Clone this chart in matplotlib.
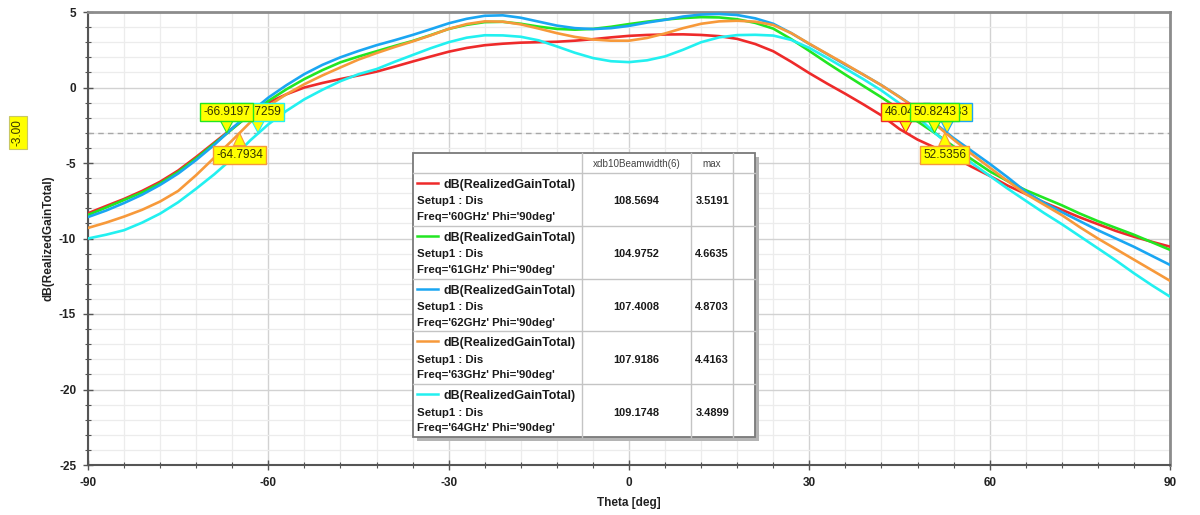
import numpy as np
import matplotlib
matplotlib.use("Agg")
import matplotlib.pyplot as plt
from matplotlib.patches import Rectangle
from matplotlib.lines import Line2D
from matplotlib.ticker import MultipleLocator

plt.rcParams['font.family'] = ['Liberation Sans', 'DejaVu Sans']
plt.rcParams['axes.unicode_minus'] = False

# ---------------- data ----------------
theta = np.arange(-90, 91, 3)

gain_60 = [-8.33, -7.85, -7.38, -6.85, -6.24, -5.5, -4.6, -3.65, -2.7, -1.8,
           -1.0, -0.45, 0.0, 0.3, 0.56, 0.8, 1.05, 1.38, 1.72, 2.05,
           2.37, 2.62, 2.8, 2.9, 2.97, 3.0, 3.03, 3.1, 3.2, 3.32,
           3.42, 3.48, 3.51, 3.52, 3.48, 3.4, 3.22, 2.88, 2.4, 1.7,
           0.95, 0.25, -0.42, -1.12, -1.85, -2.75, -3.45, -4.0, -4.6, -5.25,
           -5.85, -6.5, -7.05, -7.6, -8.1, -8.6, -9.05, -9.5, -9.88, -10.22, -10.54]

gain_61 = [-8.44, -7.95, -7.45, -6.95, -6.35, -5.6, -4.7, -3.72, -2.75, -1.75,
           -0.89, -0.12, 0.56, 1.15, 1.67, 2.05, 2.4, 2.75, 3.08, 3.47,
           3.88, 4.15, 4.33, 4.35, 4.22, 4.03, 3.88, 3.83, 3.88, 4.02,
           4.2, 4.36, 4.5, 4.6, 4.66, 4.64, 4.52, 4.28, 3.9, 3.2,
           2.42, 1.62, 0.85, 0.1, -0.65, -1.45, -2.25, -3.05, -3.9, -4.75,
           -5.55, -6.2, -6.8, -7.3, -7.8, -8.35, -8.85, -9.3, -9.75, -10.25, -10.75]

gain_62 = [-8.58, -8.15, -7.65, -7.1, -6.45, -5.7, -4.8, -3.8, -2.7, -1.65,
           -0.67, 0.15, 0.89, 1.5, 2.0, 2.42, 2.8, 3.13, 3.48, 3.86,
           4.25, 4.55, 4.75, 4.78, 4.62, 4.36, 4.1, 3.93, 3.87, 3.93,
           4.08, 4.3, 4.48, 4.7, 4.83, 4.87, 4.8, 4.58, 4.22, 3.6,
           2.88, 2.2, 1.5, 0.85, 0.15, -0.62, -1.42, -2.4, -3.35, -4.2,
           -5.05, -5.95, -6.9, -7.62, -8.25, -8.85, -9.45, -10.0, -10.55, -11.15, -11.75]

gain_63 = [-9.3, -8.95, -8.55, -8.1, -7.55, -6.85, -5.8, -4.65, -3.5, -2.3,
           -1.22, -0.45, 0.22, 0.8, 1.33, 1.85, 2.28, 2.68, 3.05, 3.45,
           3.88, 4.2, 4.38, 4.36, 4.18, 3.9, 3.6, 3.35, 3.18, 3.1,
           3.1, 3.28, 3.58, 3.93, 4.22, 4.38, 4.42, 4.36, 4.14, 3.6,
           2.9, 2.22, 1.55, 0.85, 0.15, -0.63, -1.45, -2.45, -3.45, -4.4,
           -5.3, -6.2, -7.05, -7.75, -8.45, -9.25, -10.0, -10.7, -11.4, -12.1, -12.8]

gain_64 = [-10.0, -9.75, -9.45, -8.95, -8.35, -7.6, -6.7, -5.75, -4.7, -3.5,
           -2.44, -1.55, -0.78, -0.15, 0.42, 0.88, 1.22, 1.7, 2.15, 2.6,
           3.0, 3.3, 3.46, 3.45, 3.36, 3.12, 2.72, 2.3, 1.95, 1.74,
           1.68, 1.8, 2.06, 2.5, 3.0, 3.32, 3.47, 3.49, 3.44, 3.15,
           2.62, 1.95, 1.25, 0.55, -0.2, -1.05, -1.95, -3.05, -4.05, -5.0,
           -5.85, -6.7, -7.5, -8.3, -9.05, -9.85, -10.65, -11.45, -12.3, -13.1, -13.85]

series = [gain_60, gain_61, gain_62, gain_63, gain_64]
freqs = ['60GHz', '61GHz', '62GHz', '63GHz', '64GHz']
beamwidth = ['108.5694', '104.9752', '107.4008', '107.9186', '109.1748']
max_gain = ['3.5191', '4.6635', '4.8703', '4.4163', '3.4899']
colors = ['#ee2a2a', '#22e622', '#1aa6f2', '#f7993a', '#22f0f0']

x_ticks = [-90, -60, -30, 0, 30, 60, 90]
y_ticks = [5, 0, -5, -10, -15, -20, -25]
ref_level = -3.0

# markers on the -3 dB line (drawn in this order; later ones cover earlier ones)
marker_theta = [-61.7259, -66.9197, -64.7934, 46.0418, 52.9183, 50.8243, 52.5356]
marker_text = ['-61.7259', '-66.9197', '-64.7934', '46.0418', '52.9183', '50.8243', '52.5356']
marker_series = [4, 1, 3, 0, 2, 1, 3]
marker_above = [True, True, False, True, True, True, False]

# ---------------- figure ----------------
W, H = 1200, 515
fig = plt.figure(figsize=(W / 100, H / 100), dpi=100)
ax = fig.add_axes([88 / W, 1 - 465 / H, 1082 / W, 453 / H])

for vals, c in zip(series, colors):
    ax.plot(theta, vals, color=c, lw=1.9, zorder=3, solid_capstyle='round')

ax.axhline(ref_level, color='#a8a8a8', lw=1.0, ls=(0, (4, 3)), zorder=2)

ax.set_xlim(-90, 90)
ax.set_ylim(-25, 5)
ax.set_xticks(x_ticks)
ax.set_yticks(y_ticks)
ax.xaxis.set_minor_locator(MultipleLocator(6))
ax.yaxis.set_minor_locator(MultipleLocator(1))
ax.grid(which='major', color='#d2d2d2', lw=1.0, zorder=0)
ax.grid(which='minor', color='#ececec', lw=0.9, zorder=0)
ax.set_axisbelow(True)
ax.tick_params(which='both', direction='inout', color='#555555')
ax.tick_params(which='major', length=7, width=1.0, labelsize=8.5, pad=5)
ax.tick_params(which='minor', length=5, width=0.8)
for lab in ax.get_xticklabels() + ax.get_yticklabels():
    lab.set_fontweight('bold')
    lab.set_color('#222222')

for s in ['left', 'bottom']:
    ax.spines[s].set_color('#555555')
    ax.spines[s].set_linewidth(1.5)
for s in ['top', 'right']:
    ax.spines[s].set_color('#8c8c8c')
    ax.spines[s].set_linewidth(2.0)

ax.set_xlabel('Theta [deg]', fontsize=8.5, fontweight='bold', color='#222222', labelpad=6)
ax.set_ylabel('dB(RealizedGainTotal)', fontsize=8.5, fontweight='bold', color='#222222', labelpad=3)

# -3 dB reference label
ax.text(-0.0647, ref_level, '-3.00', transform=ax.get_yaxis_transform(), rotation=90,
        ha='center', va='center', fontsize=8.5, color='#333300',
        bbox=dict(boxstyle='square,pad=0.25', fc='#ffff00', ec='#c8c864', lw=0.8),
        clip_on=False, zorder=6)

# markers
for t, txt, si, above in zip(marker_theta, marker_text, marker_series, marker_above):
    off = 15 if above else -16
    ax.annotate(txt, xy=(t, ref_level), xytext=(0, off), textcoords='offset points',
                ha='center', va='center', fontsize=8.6, color='#333300',
                bbox=dict(boxstyle='square,pad=0.25', fc='#ffff00', ec=colors[si], lw=1.0),
                arrowprops=dict(arrowstyle='wedge,tail_width=1.0,shrink_factor=0.5',
                                fc='#ffff00', ec=colors[si], lw=0.8,
                                shrinkA=0, shrinkB=0),
                zorder=7)

# ---------------- legend table ----------------
def fx(x):
    return x / W


def fy(y):
    return 1 - y / H


tl, tr, tt, tb = 413, 755, 153, 437
col_sep = [581.7, 691, 733.3]
hdr_b = 173
row_h = (tb - hdr_b) / len(series)

fig.add_artist(Rectangle((fx(tl + 4), fy(tb + 4)), fx(tr - tl), (tb - tt) / H,
                         transform=fig.transFigure, fc='#b4b4b4', ec='none', zorder=8))
fig.add_artist(Rectangle((fx(tl), fy(tb)), fx(tr - tl), (tb - tt) / H,
                         transform=fig.transFigure, fc='white', ec='#7a7a7a', lw=1.3, zorder=9))
for cx in col_sep:
    fig.add_artist(Line2D([fx(cx), fx(cx)], [fy(tt), fy(tb)], transform=fig.transFigure,
                          color='#c4c4c4', lw=1.0, zorder=10))
for i in range(len(series)):
    yy = hdr_b + i * row_h
    fig.add_artist(Line2D([fx(tl), fx(tr)], [fy(yy), fy(yy)], transform=fig.transFigure,
                          color='#c4c4c4', lw=1.0, zorder=10))

fig.text(fx((col_sep[0] + col_sep[1]) / 2), fy(164), 'xdb10Beamwidth(6)', ha='center', va='center',
         fontsize=7.1, color='#444444', zorder=11)
fig.text(fx((col_sep[1] + col_sep[2]) / 2), fy(164), 'max', ha='center', va='center',
         fontsize=7.1, color='#444444', zorder=11)

for i, (c, fq, bw, mx) in enumerate(zip(colors, freqs, beamwidth, max_gain)):
    top = hdr_b + i * row_h
    fig.add_artist(Line2D([fx(417), fx(438)], [fy(top + 10)] * 2, transform=fig.transFigure,
                          color=c, lw=1.8, zorder=11))
    fig.text(fx(443), fy(top + 12), 'dB(RealizedGainTotal)', ha='left', va='center',
             fontsize=8.9, fontweight='bold', color='#1a1a1a', zorder=11)
    fig.text(fx(417), fy(top + 28.5), 'Setup1 : Dis', ha='left', va='center',
             fontsize=8.2, fontweight='bold', color='#1a1a1a', zorder=11)
    fig.text(fx(417), fy(top + 44), "Freq='%s' Phi='90deg'" % fq, ha='left', va='center',
             fontsize=8.2, fontweight='bold', color='#1a1a1a', zorder=11)
    fig.text(fx((col_sep[0] + col_sep[1]) / 2), fy(top + 28.5), bw, ha='center', va='center',
             fontsize=7.9, fontweight='bold', color='#1a1a1a', zorder=11)
    fig.text(fx((col_sep[1] + col_sep[2]) / 2), fy(top + 28.5), mx, ha='center', va='center',
             fontsize=7.9, fontweight='bold', color='#1a1a1a', zorder=11)

fig.savefig('out.png', dpi=100)
